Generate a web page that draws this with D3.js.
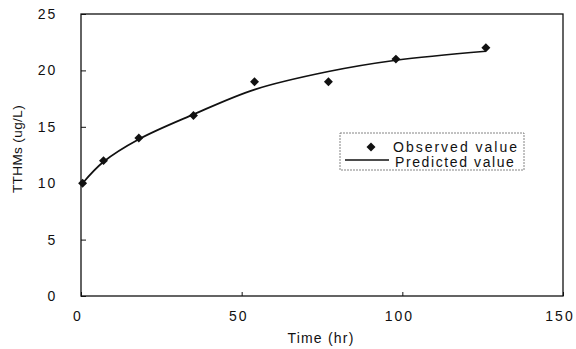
<!DOCTYPE html>
<html><head><meta charset="utf-8">
<script src="https://cdn.jsdelivr.net/npm/d3@7"></script>
<style>body{margin:0;background:#fff}svg{display:block}text{font-family:"Liberation Sans",Arial,sans-serif;fill:#111}</style>
</head><body><div id="chart"></div>
<script>
const obsTime = [0.5, 7, 18, 35, 54, 77, 98, 126];
const obsValue = [10, 12, 14, 16, 19, 19, 21, 22];
const predTime = [0.5, 7, 18, 35, 54, 77, 98, 126];
const predValue = [10, 11.9, 13.9, 16.1, 18.3, 19.9, 20.9, 21.7];
const xTicks = [0, 50, 100, 150];
const yTicks = [0, 5, 10, 15, 20, 25];

const W = 576, H = 349;
const m = {left: 81, right: 13, top: 14, bottom: 53};
const svg = d3.select("#chart").append("svg").attr("width", W).attr("height", H);
const x = d3.scaleLinear().domain([0, 150]).range([m.left, W - m.right]);
const y = d3.scaleLinear().domain([0, 25]).range([H - m.bottom, m.top]);

// frame
svg.append("rect").attr("x", x(0)).attr("y", y(25)).attr("width", x(150) - x(0)).attr("height", y(0) - y(25))
  .attr("fill", "none").attr("stroke", "#111").attr("stroke-width", 1.3);

const yAx = svg.append("g").attr("transform", `translate(${x(0)},0)`)
  .call(d3.axisRight(y).tickValues(yTicks).tickSize(5).tickFormat(""));
yAx.select(".domain").remove();
yAx.selectAll("line").attr("stroke", "#111");
svg.append("g").selectAll("text").data(yTicks).join("text")
  .attr("x", x(0) - 24).attr("y", d => y(d) + 5).attr("text-anchor", "end")
  .attr("font-size", 14).attr("letter-spacing", 1.8).text(d => d);

const xAx = svg.append("g").attr("transform", `translate(0,${y(0)})`)
  .call(d3.axisTop(x).tickValues(xTicks).tickSize(4).tickFormat(""));
xAx.select(".domain").remove();
xAx.selectAll("line").attr("stroke", "#111");
svg.append("g").selectAll("text").data(xTicks).join("text")
  .attr("x", d => x(d) - 3).attr("y", y(0) + 25).attr("text-anchor", "middle")
  .attr("font-size", 14).attr("letter-spacing", 2).text(d => d);

svg.append("text").attr("x", 321).attr("y", 343).attr("text-anchor", "middle")
  .attr("font-size", 14).attr("letter-spacing", 1.2).text("Time (hr)");
svg.append("text").attr("transform", `translate(22,149) rotate(-90)`)
  .attr("text-anchor", "middle").attr("font-size", 13.5).attr("letter-spacing", 0.4).text("TTHMs (ug/L)");

// predicted line
const pred = predTime.map((t, i) => [t, predValue[i]]);
svg.append("path").datum(pred).attr("fill", "none").attr("stroke", "#111").attr("stroke-width", 1.7)
  .attr("d", d3.line().x(d => x(d[0])).y(d => y(d[1])).curve(d3.curveCatmullRom.alpha(0.5)));

// observed points
const diamond = d3.symbol().type(d3.symbolSquare).size(40);
svg.append("g").selectAll("path").data(obsTime.map((t, i) => [t, obsValue[i]])).join("path")
  .attr("transform", d => `translate(${x(d[0])},${y(d[1])}) rotate(45)`).attr("d", diamond).attr("fill", "#111");

// legend
const lg = svg.append("g").attr("transform", "translate(340,133)");
lg.append("rect").attr("width", 184).attr("height", 37).attr("fill", "#fff")
  .attr("stroke", "#666").attr("stroke-width", 0.8).attr("stroke-dasharray", "2,1");
lg.append("path").attr("transform", "translate(31,14) rotate(45)").attr("d", diamond).attr("fill", "#111");
lg.append("text").attr("x", 53).attr("y", 19).attr("font-size", 14).attr("letter-spacing", 2).text("Observed value");
lg.append("line").attr("x1", 5).attr("x2", 49).attr("y1", 27).attr("y2", 27).attr("stroke", "#111").attr("stroke-width", 1.7);
lg.append("text").attr("x", 55).attr("y", 34).attr("font-size", 14).attr("letter-spacing", 1.6).text("Predicted value");
</script></body></html>
